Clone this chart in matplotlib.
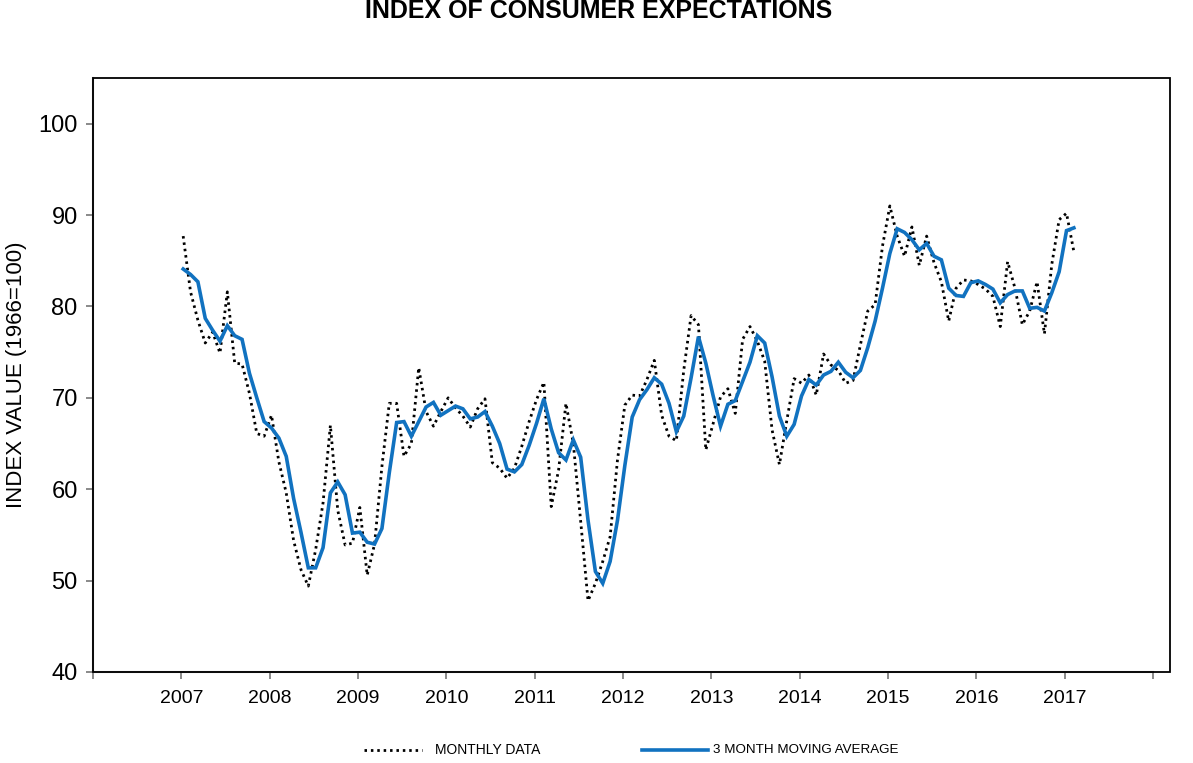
import numpy as np
import matplotlib
matplotlib.use("Agg")
import matplotlib.pyplot as plt
from matplotlib.lines import Line2D
from matplotlib.patches import Rectangle

# Index of Consumer Expectations, monthly, Jan 2007 - Feb 2017
start_year = 2007
monthly = [
    87.7, 81.6, 78.5, 76.0, 77.2, 74.9, 81.6, 73.8, 73.7, 70.5, 66.1, 65.8,   # 2007
    68.1, 63.0, 59.6, 54.4, 51.2, 49.4, 53.4, 58.5, 67.0, 57.7, 53.9, 54.1,   # 2008
    58.0, 50.6, 54.0, 62.5, 69.4, 69.4, 63.6, 65.0, 73.3, 68.5, 66.9, 68.5,   # 2009
    70.0, 68.9, 68.0, 66.8, 68.8, 69.9, 62.9, 62.3, 61.2, 62.3, 64.7, 67.4,   # 2010
    69.8, 71.7, 58.1, 62.1, 69.4, 65.0, 56.5, 47.8, 49.7, 52.1, 54.8, 63.2,   # 2011
    69.2, 70.3, 70.2, 72.0, 74.1, 68.1, 65.8, 65.3, 73.0, 79.0, 78.0, 64.3,   # 2012
    67.2, 70.1, 71.0, 68.3, 76.4, 77.8, 76.2, 74.0, 66.5, 62.7, 67.5, 72.1,   # 2013
    71.6, 72.5, 70.3, 74.8, 73.6, 73.0, 71.6, 71.9, 75.8, 79.5, 80.2, 86.6,   # 2014
    91.0, 87.7, 85.5, 88.7, 84.5, 87.7, 84.8, 82.7, 78.4, 82.0, 82.9, 82.8,   # 2015
    82.4, 81.9, 81.1, 77.8, 84.9, 82.0, 78.0, 79.5, 82.7, 77.0, 84.6, 89.5,   # 2016
    90.2, 86.0,                                                               # 2017
]
moving_avg = [
    84.1, 83.5, 82.7, 78.7, 77.4, 76.2, 77.9, 76.8, 76.4, 72.7, 70.0, 67.4,
    66.7, 65.6, 63.6, 59.0, 55.3, 51.4, 51.4, 53.6, 59.6, 60.8, 59.4, 55.2,
    55.3, 54.2, 54.0, 55.7, 61.8, 67.3, 67.4, 65.8, 67.4, 69.0, 69.5, 68.1,
    68.6, 69.1, 68.8, 67.7, 67.9, 68.5, 66.9, 65.0, 62.2, 61.9, 62.7, 64.8,
    67.2, 69.9, 66.6, 64.0, 63.2, 65.4, 63.5, 56.6, 51.0, 49.7, 52.1, 56.6,
    62.6, 67.9, 69.8, 70.9, 72.2, 71.5, 69.4, 66.3, 68.0, 72.2, 76.7, 73.8,
    70.2, 66.9, 69.3, 69.7, 71.8, 73.9, 76.8, 76.0, 72.3, 68.0, 65.8, 67.1,
    70.2, 72.0, 71.4, 72.5, 72.9, 73.9, 72.8, 72.2, 73.0, 75.5, 78.4, 82.0,
    85.8, 88.5, 88.1, 87.3, 86.2, 86.9, 85.5, 85.1, 82.0, 81.2, 81.1, 82.6,
    82.8, 82.4, 81.9, 80.4, 81.3, 81.7, 81.7, 79.8, 79.9, 79.5, 81.5, 83.8,
    88.3, 88.6,
]
year_ticks = list(range(2006, 2019))
year_labels = [str(y) if 2007 <= y <= 2017 else "" for y in year_ticks]
y_ticks = [40, 50, 60, 70, 80, 90, 100]

blue = "#1172C0"
grey = "#808080"
fam = ["Liberation Sans", "DejaVu Sans"]

W, H = 1193, 763
fig = plt.figure(figsize=(W / 100, H / 100), dpi=100)
ax = fig.add_axes([93 / W, 1 - 672 / H, (1153 - 93) / W, (672 - 78) / H])

x = start_year + (np.arange(len(monthly)) + 0.25) / 12
ax.plot(x, monthly, color="black", lw=2.0, linestyle=(0, (0.9, 1.4)))
ax.plot(x, moving_avg, color=blue, lw=2.6, solid_joinstyle="miter")

ax.set_xlim(2006, 2018)
ax.set_ylim(40, 105)
ax.set_xticks(year_ticks)
ax.set_xticklabels(year_labels, fontsize=14, family=fam)
ax.set_yticks(y_ticks)
ax.set_yticklabels([str(v) for v in y_ticks], fontsize=17, family=fam)
ax.tick_params(axis="both", color=grey, width=1.3, length=5, direction="out", pad=6)
ax.tick_params(axis="x", pad=8)

for s in ["top", "right"]:
    ax.spines[s].set_visible(False)
for s in ["left", "bottom"]:
    ax.spines[s].set_color(grey)
    ax.spines[s].set_linewidth(1.5)

# outer plot frame
fig.patches.append(Rectangle((93 / W, 1 - 672 / H), (1170 - 93) / W, (672 - 78) / H,
                             transform=fig.transFigure, fill=False, ec="black", lw=1.3, zorder=0))

ax.set_ylabel("INDEX VALUE (1966=100)", fontsize=16, family=fam, labelpad=8)
fig.text(599 / W, 1 - 11 / H, "INDEX OF CONSUMER EXPECTATIONS", ha="center", va="center",
         fontsize=18, fontweight="bold", family=fam)

# legend along the bottom
ly = 1 - 750 / H
fig.add_artist(Line2D([364 / W, 422 / W], [ly, ly], transform=fig.transFigure,
                      color="black", lw=2.0, linestyle=(0, (0.9, 1.4))))
fig.text(435 / W, ly, "MONTHLY DATA", ha="left", va="center", fontsize=10, family=fam)
fig.add_artist(Line2D([642 / W, 708 / W], [ly, ly], transform=fig.transFigure,
                      color=blue, lw=2.6))
fig.text(713 / W, ly, "3 MONTH MOVING AVERAGE", ha="left", va="center", fontsize=9.6, family=fam)

fig.savefig("out.png", dpi=100)
